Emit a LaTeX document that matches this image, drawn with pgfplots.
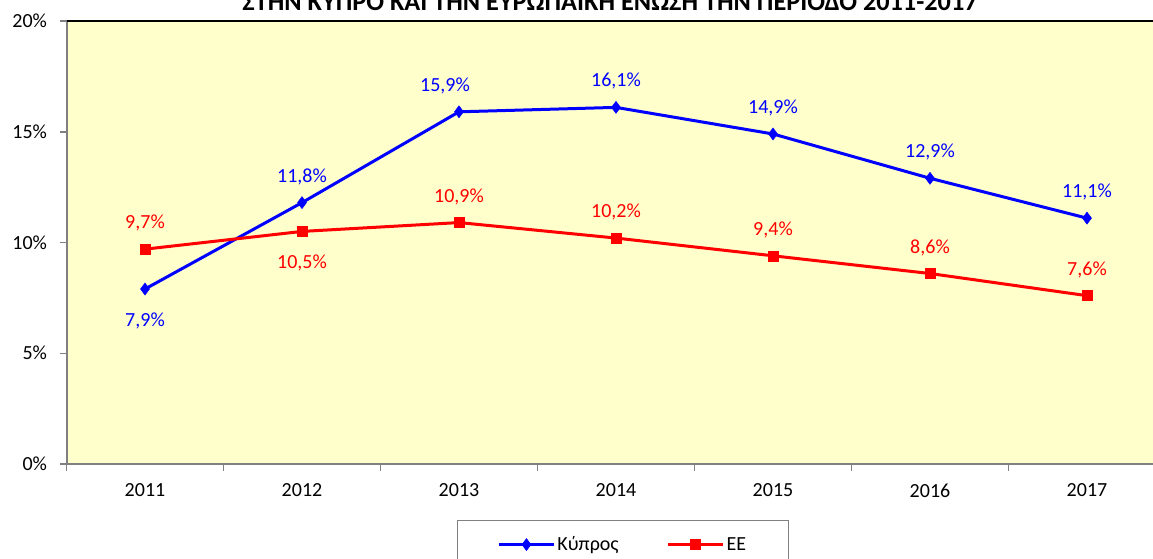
\documentclass[border=0pt]{standalone}
\usepackage{fontspec}
\setmainfont{Carlito}
\usepackage{pgfplots}
\pgfplotsset{compat=1.18}
\usepackage{pgfplotstable}
\definecolor{plotbg}{HTML}{FFFFCC}
\definecolor{axgray}{HTML}{808080}
\definecolor{cyblue}{HTML}{0000FF}
\definecolor{eered}{HTML}{FF0000}

\pgfplotstableread{
x y off xoff
0 7.9 -37.5 0
1 11.8 20.5 0
2 15.9 20.5 -14
3 16.1 20.5 0
4 14.9 20.5 0
5 12.9 20.5 0
6 11.1 20.5 0
}\cyp
\pgfplotstableread{
x y off xoff
0 9.7 20.5 0
1 10.5 -37.5 0
2 10.9 20.5 0
3 10.2 20.5 0
4 9.4 20.5 0
5 8.6 20.5 0
6 7.6 20.5 0
}\ee

\newcommand{\lblfont}{\fontsize{20}{24}\selectfont}

\begin{document}
\begin{tikzpicture}[x=1pt,y=1pt]
\clip[use as bounding box] (0,0) rectangle (1153,558);
\node[anchor=base, inner sep=0pt] at (610,547) {\resizebox{735pt}{!}{\bfseries ΣΤΗΝ ΚΥΠΡΟ ΚΑΙ ΤΗΝ ΕΥΡΩΠΑΪΚΗ ΕΝΩΣΗ ΤΗΝ ΠΕΡΙΟΔΟ 2011-2017}};
\begin{axis}[
  at={(66.5pt,94pt)}, anchor=south west,
  scale only axis, width=1099pt, height=443pt,
  xmin=-0.5, xmax=6.5, ymin=0, ymax=20,
  clip=false,
  axis background/.style={fill=plotbg},
  axis x line*=bottom, axis y line*=left,
  axis line style={axgray, line width=2pt, -},
  xtick={-0.5,0.5,1.5,2.5,3.5,4.5,5.5,6.5},
  x tick label as interval,
  xticklabels={2011,2012,2013,2014,2015,2016,2017},
  ytick={0,5,10,15,20},
  yticklabels={0\%,5\%,10\%,15\%,20\%},
  tick align=outside, major tick length=7pt,
  tick style={axgray, line width=1.5pt},
  ticklabel style={font=\lblfont},
  xticklabel style={yshift=-9pt},
  yticklabel style={xshift=-9pt},
  /pgf/number format/assume math mode=true,
  legend columns=2,
  legend style={at={(0.3553,-0.127)}, anchor=north west,
    draw=axgray, line width=1pt, fill=white, font=\lblfont,
    inner xsep=40pt, inner ysep=14pt,
    /tikz/every even column/.append style={column sep=46pt}},
  legend image code/.code={\draw[mark repeat=2,mark phase=2,#1] plot coordinates {(0pt,0pt) (27.5pt,0pt) (55pt,0pt)};},
  nodes near coords={\pgfmathprintnumber[fixed, fixed zerofill, precision=1, use comma]{\pgfplotspointmeta}\%},
  point meta=explicit,
]
\addplot[cyblue, line width=3pt, mark=diamond*, mark size=6pt,
  mark options={solid, fill=cyblue, draw=cyblue, line width=0.5pt},
  visualization depends on={\thisrow{off}\as\off},
  visualization depends on={\thisrow{xoff}\as\xoff},
  every node near coord/.style={anchor=base, inner sep=0pt, font=\lblfont, text=cyblue, yshift=\off pt, xshift=\xoff pt}]
  table[x=x, y=y, meta=y] {\cyp};
\addlegendentry{Κύπρος}
\addplot[eered, line width=3pt, mark=square*, mark size=5pt,
  mark options={solid, fill=eered, draw=eered, line width=0.5pt},
  visualization depends on={\thisrow{off}\as\off},
  visualization depends on={\thisrow{xoff}\as\xoff},
  every node near coord/.style={anchor=base, inner sep=0pt, font=\lblfont, text=eered, yshift=\off pt, xshift=\xoff pt}]
  table[x=x, y=y, meta=y] {\ee};
\addlegendentry{ΕΕ}
\draw[black, line width=2pt] (rel axis cs:0,1) -- (rel axis cs:1,1);
\end{axis}
\end{tikzpicture}
\end{document}
